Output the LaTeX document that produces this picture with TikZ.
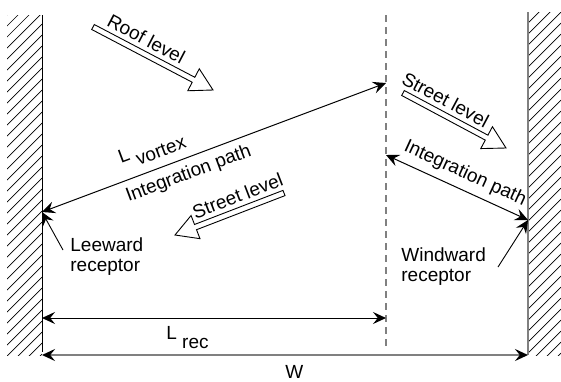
\documentclass[tikz,border=0pt]{standalone}
\usepackage{fontspec}
\setmainfont{Liberation Sans}
\usetikzlibrary{arrows.meta,calc}

\tikzset{
  >={Stealth[length=6.5pt,width=6pt,inset=2.4pt]},
  wall/.style={line width=0.5pt},
  hatch/.style={line width=0.35pt},
  hollow/.style={draw,line width=0.45pt,line join=miter},
  dimline/.style={line width=0.5pt,<->},
  pointer/.style={line width=0.45pt,->},
  divider/.style={draw=gray,line width=0.6pt,dash pattern=on 3.5pt off 2.5pt}
}

% hollow flow arrow from #1 (tail) to #2 (tip)
\newcommand{\flowarrow}[2]{%
  \draw[hollow] ($(#1)!1.4pt!90:(#2)$) -- ($(#2)!11pt!(#1)!1.4pt!-90:(#1)$)
    -- ($(#2)!11pt!(#1)!6.2pt!-90:(#1)$) -- (#2)
    -- ($(#2)!11pt!(#1)!6.2pt!90:(#1)$) -- ($(#2)!11pt!(#1)!1.4pt!90:(#1)$)
    -- ($(#1)!1.4pt!-90:(#2)$) -- cycle;}

\begin{document}
\begin{tikzpicture}[x=0.5pt,y=-0.5pt,font=\fontsize{9.5}{10}\selectfont]
  \useasboundingbox (0,0) rectangle (561,381);

  % walls
  \begin{scope}
    \clip (7,15) rectangle (42,355);
    \foreach \k in {15,26,...,400}
      \draw[hatch] (7,\k) -- ++(35,-35);
  \end{scope}
  \begin{scope}
    \clip (528,12) rectangle (561,355);
    \foreach \k in {12,23,...,400}
      \draw[hatch] (528,\k) -- ++(33,-33);
  \end{scope}
  \coordinate (lwtop) at (42,15);
  \coordinate (lwbot) at (42,352);
  \coordinate (rwtop) at (528,12);
  \coordinate (rwbot) at (528,355);
  \draw[wall] (lwtop) -- (lwbot);
  \draw[wall,draw=gray,line width=0.7pt] (rwtop) -- (rwbot);

  % divider
  \coordinate (divtop) at (386,15);
  \coordinate (divbot) at (386,346);
  \path[divider] (divtop) -- (divbot);

  % points
  \coordinate (rooftail) at (93,27);
  \coordinate (rooftip)  at (213,90);
  \coordinate (sttail)   at (403,93);
  \coordinate (sttip)    at (506,148);
  \coordinate (sbtail)   at (284,193);
  \coordinate (sbtip)    at (175,235);
  \coordinate (lee)      at (42,212);
  \coordinate (vort)     at (386,83);
  \coordinate (ip)       at (386,155);
  \coordinate (wind)     at (528,220);
  \coordinate (leetail)  at (63,250);
  \coordinate (windtail) at (498,267);
  \coordinate (reca)     at (42,318);
  \coordinate (recb)     at (386,318);
  \coordinate (wa)       at (42,355);
  \coordinate (wb)       at (528,355);

  % flow arrows
  \flowarrow{rooftail}{rooftip}
  \flowarrow{sttail}{sttip}
  \flowarrow{sbtail}{sbtip}
  \path (rooftail) -- (rooftip) node[sloped,above,pos=.39] (rooflbl) {Roof level};
  \path (sttail) -- (sttip) node[sloped,above,pos=.35] (stlbl) {Street level};
  \path (sbtail) -- (sbtip) node[sloped,above,pos=.38] (sblbl) {Street level};

  % integration paths
  \path (lee) edge[dimline] node[sloped,above,pos=.34,inner sep=4.5pt] (vortlbl) {L \raisebox{-4pt}{vortex}}
                            node[sloped,below,pos=.41] (ipllbl) {Integration path} (vort);
  \path (ip) edge[dimline] node[sloped,above,pos=.51] (iprlbl) {Integration path} (wind);

  % receptors
  \path (leetail) edge[pointer] (lee);
  \path (windtail) edge[pointer] (wind);
  \node[anchor=north west,inner sep=0,align=left] (leelbl) at (70,237) {Leeward\\receptor};
  \node[anchor=north west,inner sep=0,align=left] (windlbl) at (401,247) {Windward\\receptor};

  % dimensions
  \path (reca) edge[dimline] (recb);
  \path (wa) edge[line width=1pt,draw=gray,
    {Stealth[length=6.5pt,width=6pt,inset=2.4pt,color=black]}-{Stealth[length=6.5pt,width=6pt,inset=2.4pt,color=black]}] (wb);
  \node[anchor=base west,inner sep=0] (reclbl) at (166,339) {L \raisebox{-4.5pt}{rec}};
  \node[anchor=base west,inner sep=0] (wlbl) at (285,378) {W};
\end{tikzpicture}
\end{document}
